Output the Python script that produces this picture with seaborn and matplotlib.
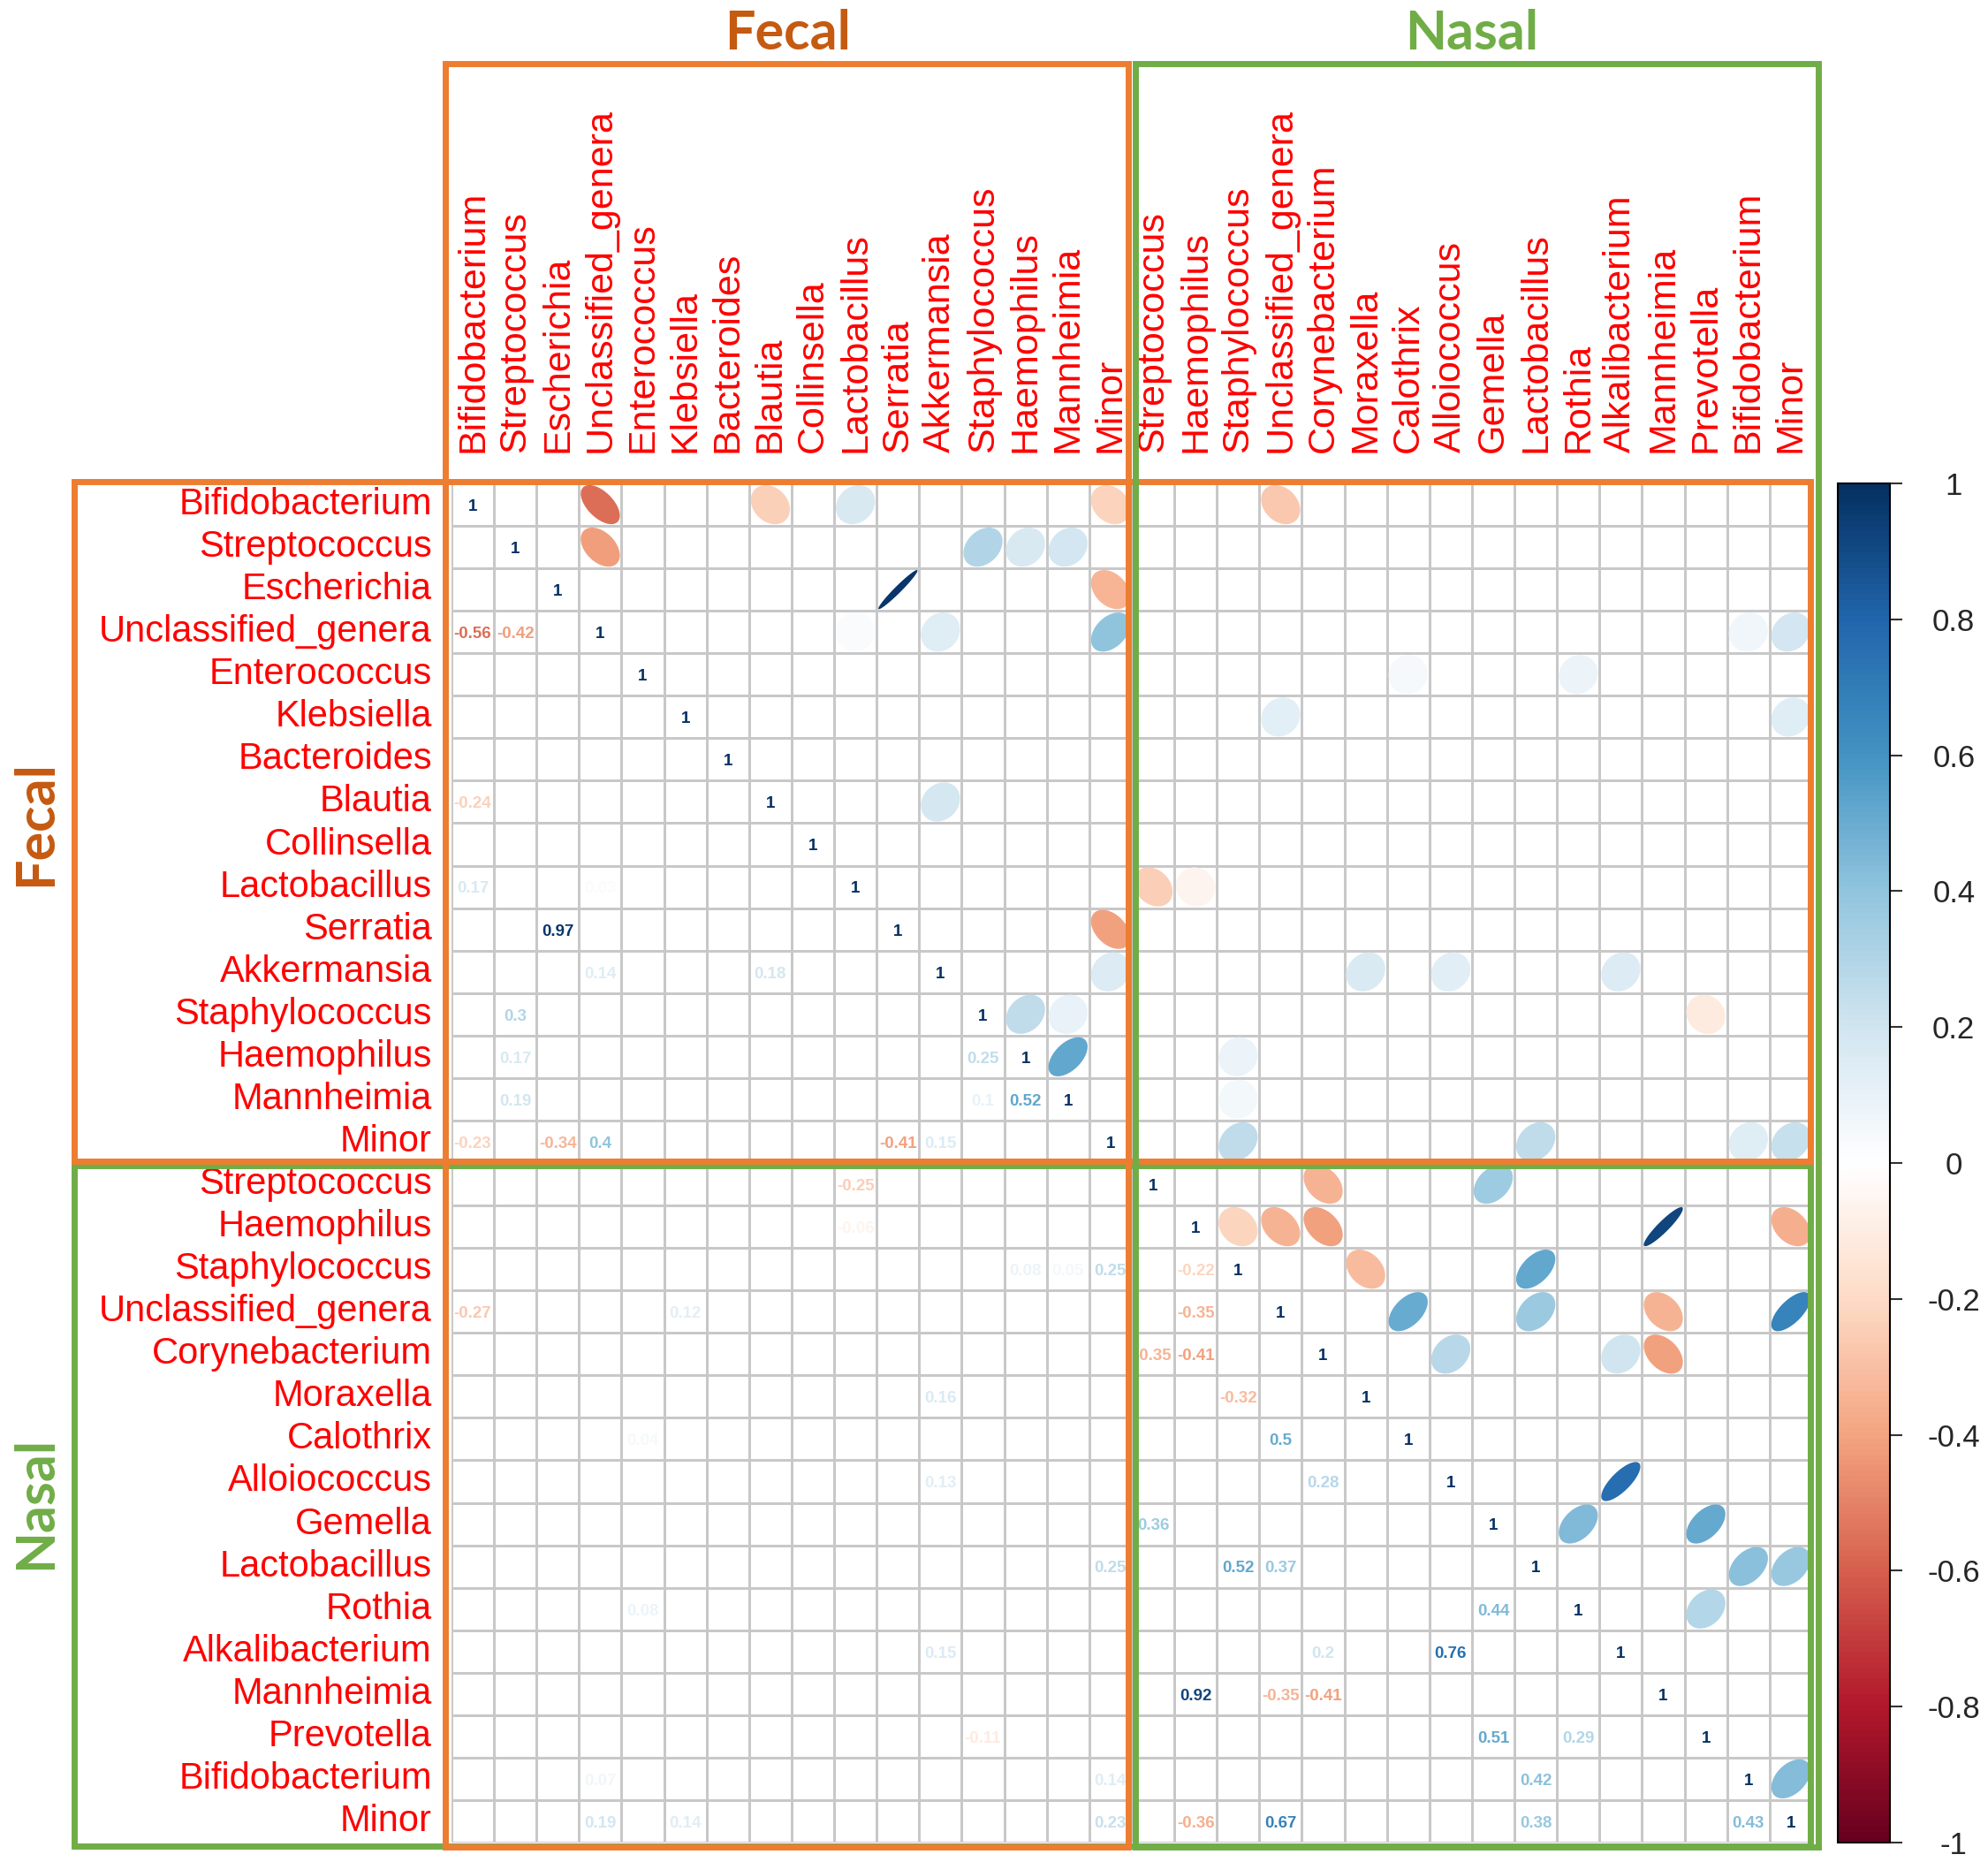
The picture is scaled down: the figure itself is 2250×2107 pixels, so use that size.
import numpy as np
import seaborn as sns
import matplotlib
matplotlib.use("Agg")
import matplotlib.pyplot as plt
from matplotlib.colors import LinearSegmentedColormap, ListedColormap, Normalize
from matplotlib.patches import Polygon, Rectangle
from matplotlib.cm import ScalarMappable

# genera in the order used on both axes
fecal_genera = ["Bifidobacterium", "Streptococcus", "Escherichia", "Unclassified_genera",
                "Enterococcus", "Klebsiella", "Bacteroides", "Blautia", "Collinsella",
                "Lactobacillus", "Serratia", "Akkermansia", "Staphylococcus",
                "Haemophilus", "Mannheimia", "Minor"]
nasal_genera = ["Streptococcus", "Haemophilus", "Staphylococcus", "Unclassified_genera",
                "Corynebacterium", "Moraxella", "Calothrix", "Alloiococcus", "Gemella",
                "Lactobacillus", "Rothia", "Alkalibacterium", "Mannheimia", "Prevotella",
                "Bifidobacterium", "Minor"]

fecal_pairs = [(3, 0, -0.56), (3, 1, -0.42), (7, 0, -0.24), (9, 0, 0.17), (9, 3, 0.03),
               (10, 2, 0.97), (11, 3, 0.14), (11, 7, 0.18), (12, 1, 0.30), (13, 1, 0.17),
               (13, 12, 0.25), (14, 1, 0.19), (14, 12, 0.10), (14, 13, 0.52), (15, 0, -0.23),
               (15, 2, -0.34), (15, 3, 0.40), (15, 10, -0.41), (15, 11, 0.15)]
nasal_pairs = [(2, 1, -0.22), (3, 1, -0.35), (4, 0, -0.35), (4, 1, -0.41), (5, 2, -0.32),
               (6, 3, 0.50), (7, 4, 0.28), (8, 0, 0.36), (9, 2, 0.52), (9, 3, 0.37),
               (10, 8, 0.44), (11, 4, 0.20), (11, 7, 0.76), (12, 1, 0.92), (12, 3, -0.35),
               (12, 4, -0.41), (13, 8, 0.51), (13, 10, 0.29), (14, 9, 0.42), (15, 1, -0.36),
               (15, 3, 0.67), (15, 9, 0.38), (15, 14, 0.43)]
# nasal row, fecal column
cross_pairs = [(0, 9, -0.25), (1, 9, -0.06), (2, 13, 0.08), (2, 14, 0.05), (2, 15, 0.25),
               (3, 0, -0.27), (3, 5, 0.12), (5, 11, 0.16), (6, 4, 0.04), (7, 11, 0.13),
               (9, 15, 0.25), (10, 4, 0.08), (11, 11, 0.15), (13, 12, -0.11), (14, 3, 0.07),
               (14, 15, 0.14), (15, 3, 0.19), (15, 5, 0.14), (15, 15, 0.23)]

cbar_ticks = [-1, -0.8, -0.6, -0.4, -0.2, 0, 0.2, 0.4, 0.6, 0.8, 1]

labels = fecal_genera + nasal_genera
n = len(labels)
nf = len(fecal_genera)
corr = np.eye(n)
for i, j, r in fecal_pairs:
    corr[i, j] = corr[j, i] = r
for i, j, r in nasal_pairs:
    corr[nf + i, nf + j] = corr[nf + j, nf + i] = r
for i, j, r in cross_pairs:
    corr[nf + i, j] = corr[j, nf + i] = r

sns.set_style("white")
plt.rcParams['font.family'] = ['Liberation Sans', 'DejaVu Sans']

# corrplot's RdBu ramp (white in the middle)
cmap = LinearSegmentedColormap.from_list("corr_rdbu", [
    "#67001F", "#B2182B", "#D6604D", "#F4A582", "#FDDBC7", "#FFFFFF",
    "#D1E5F0", "#92C5DE", "#4393C3", "#2166AC", "#053061"])
norm = Normalize(-1, 1)

orange = "#ED7D31"
green = "#70AD47"

fig = plt.figure(figsize=(22.5, 21.07), dpi=100)
ax = fig.add_axes([0.2271, 0.01044, 0.68444, 0.72995])

# empty white grid, the marks go on top
sns.heatmap(np.zeros((n, n)), cmap=ListedColormap(["white"]), vmin=0, vmax=1, cbar=False,
            linewidths=1.8, linecolor="#c8c8c8", xticklabels=labels, yticklabels=labels, ax=ax)

ax.xaxis.tick_top()
ax.set_xticklabels(labels, rotation=90, fontsize=31, color="red")
ax.set_yticklabels(labels, rotation=0, fontsize=30, color="red")
ax.tick_params(axis="x", length=0, pad=25)
ax.tick_params(axis="y", length=0, pad=16)

t = np.linspace(0, 2 * np.pi, 120)
for i in range(n):
    for j in range(n):
        r = corr[i, j]
        if r == 0:
            continue
        col = cmap(norm(r))
        if i >= j:
            ax.text(j + 0.5, i + 0.55, format(round(r, 2), "g"), ha="center", va="center",
                    fontsize=13.5, fontweight="bold", color=col)
        else:
            a = np.arccos(r) / 2
            ex = np.cos(t + a) / 2 * 0.92
            ey = np.cos(t - a) / 2 * 0.92
            ax.add_patch(Polygon(np.column_stack([j + 0.5 + ex, i + 0.5 - ey]),
                                 facecolor=col, edgecolor="none", zorder=3))

# group boxes
boxes = [
    (-8.88, 16.07, 31.95, 32.08, green),   # nasal rows
    (-8.88, -0.04, 31.95, 15.95, orange),  # fecal rows
    (-0.15, -9.88, 15.92, 32.1, orange),   # fecal columns
    (16.09, -9.88, 32.14, 32.1, green),    # nasal columns
]
for x0, y0, x1, y1, c in boxes:
    ax.add_patch(Rectangle((x0, y0), x1 - x0, y1 - y0, fill=False, lw=5, edgecolor=c,
                           clip_on=False, zorder=5))

ax.text(7.9, -10.6, "Fecal", fontsize=44, fontweight="bold", color="#C55A11",
        family="Lato", ha="center", va="center", clip_on=False)
ax.text(24.0, -10.6, "Nasal", fontsize=44, fontweight="bold", color=green,
        family="Lato", ha="center", va="center", clip_on=False)
ax.text(-9.79, 8, "Fecal", fontsize=44, fontweight="bold", color="#C55A11", rotation=90,
        family="Lato", ha="center", va="center", clip_on=False)
ax.text(-9.79, 24, "Nasal", fontsize=44, fontweight="bold", color=green, rotation=90,
        family="Lato", ha="center", va="center", clip_on=False)

cax = fig.add_axes([0.92444, 0.01044, 0.02622, 0.72995])
cb = fig.colorbar(ScalarMappable(norm=norm, cmap=cmap), cax=cax)
cb.set_ticks(cbar_ticks)
cb.set_ticklabels([format(v, "g") for v in cbar_ticks])
cb.outline.set_linewidth(1.5)
cb.outline.set_edgecolor("black")
cax.tick_params(length=10, width=1.5, color="#333333", labelsize=25, pad=42)
for lbl in cax.get_yticklabels():
    lbl.set_ha("center")

fig.savefig("out.png", dpi=100)
